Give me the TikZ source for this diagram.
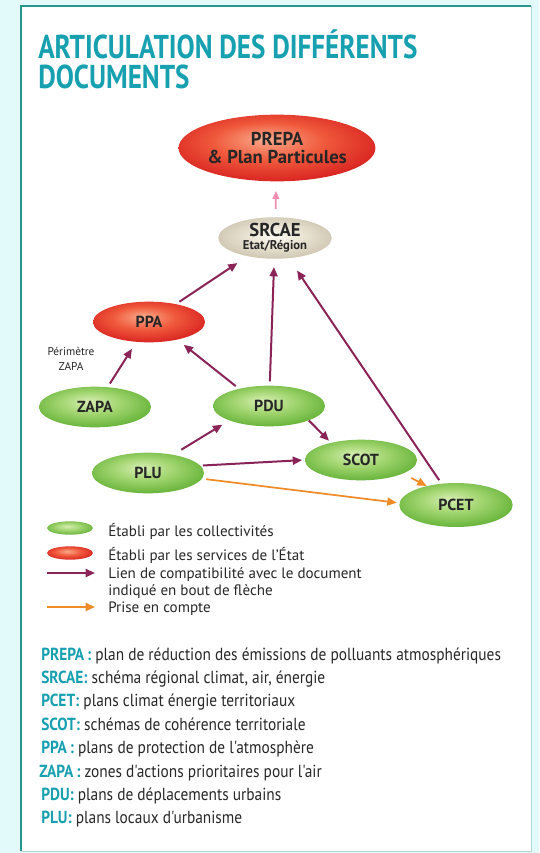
\documentclass[tikz,border=0pt]{standalone}
\usepackage{fontspec}
\setmainfont{PT Sans}
\newfontfamily\titlefont{PT Sans}[FakeStretch=0.82]
\newfontfamily\glossfont{PT Sans}[FakeStretch=0.88]
\usepackage{tikz}
\usetikzlibrary{arrows.meta,positioning,shapes.geometric}

\definecolor{titleteal}{RGB}{22,160,176}
\definecolor{framecol}{RGB}{40,150,140}
\definecolor{bgcyan}{RGB}{226,250,250}
\definecolor{linkcol}{RGB}{138,36,88}
\definecolor{takecol}{RGB}{240,140,40}
\definecolor{pinkcol}{RGB}{240,140,175}
\definecolor{txtcol}{RGB}{40,40,40}
\definecolor{gHi}{RGB}{214,238,178}
\definecolor{gMid}{RGB}{160,212,110}
\definecolor{gLo}{RGB}{96,176,52}
\definecolor{rHi}{RGB}{250,170,140}
\definecolor{rMid}{RGB}{240,90,60}
\definecolor{rLo}{RGB}{214,30,30}
\definecolor{bHi}{RGB}{252,250,244}
\definecolor{bMid}{RGB}{234,228,212}
\definecolor{bLo}{RGB}{204,196,174}

\pgfdeclareradialshading{greenglow}{\pgfpoint{-3bp}{7bp}}%
  {color(0bp)=(gHi); color(14bp)=(gMid); color(30bp)=(gLo); color(50bp)=(gLo)}
\pgfdeclareradialshading{redglow}{\pgfpoint{-3bp}{7bp}}%
  {color(0bp)=(rHi); color(14bp)=(rMid); color(30bp)=(rLo); color(50bp)=(rLo)}
\pgfdeclareradialshading{beigeglow}{\pgfpoint{0bp}{3bp}}%
  {color(0bp)=(bHi); color(12bp)=(bMid); color(28bp)=(bLo); color(50bp)=(bLo)}

\begin{document}
\begin{tikzpicture}[
    x=0.75pt, y=-0.75pt,
    docnode/.style={ellipse, minimum width=84pt, minimum height=30.5pt,
                    inner sep=0pt, align=center, text=black!85,
                    font=\fontsize{12}{13}\selectfont\bfseries},
    local/.style={docnode, shade, shading=greenglow},
    state/.style={docnode, shade, shading=redglow},
    region/.style={docnode, shade, shading=beigeglow},
    link/.style={-{Triangle[length=7pt,width=6pt]}, line width=1.5pt, linkcol,
                 shorten <=3pt, shorten >=6pt},
    takeinto/.style={-{Triangle[length=7pt,width=6pt]}, line width=1.3pt, takecol},
    titletxt/.style={anchor=base west, inner sep=0pt, titleteal, align=left,
                     font=\titlefont\fontsize{24.8}{22.5}\selectfont\bfseries},
    legtxt/.style={anchor=base west, inner sep=0pt, text=txtcol,
                   font=\fontsize{11.3}{12}\selectfont},
    glosstxt/.style={anchor=base west, inner sep=0pt, text=txtcol,
                     font=\glossfont\fontsize{13.1}{15}\selectfont},
  ]
    \useasboundingbox (0,0) rectangle (539,853);

    % frame
    \fill[bgcyan] (0,0) rectangle (539,853);
    \fill[white] (21,6) rectangle (531,851);
    \draw[framecol!35, line width=0.6pt] (531,6) -- (531,851) -- (21,851);
    \draw[framecol, line width=1.2pt] (531,6) -- (21,6) -- (21,851);

    % title
    \node[titletxt] (title) at (38,88) {ARTICULATION DES DIFFÉRENTS\\DOCUMENTS};

    % documents
    \node[state, minimum width=138pt, minimum height=50pt,
          font=\fontsize{14}{15}\selectfont\bfseries] (prepa) at (277,148)
      {PREPA\\[-2pt]\& Plan Particules};
    \node[region, minimum width=85pt, minimum height=29pt,
          font=\fontsize{14}{15}\selectfont\bfseries] (srcae) at (275,238)
      {SRCAE\\[-5pt]{\fontsize{9.5}{10}\selectfont Etat/Région}};
    \node[state] (ppa) at (149,322) {PPA};
    \node[local] (zapa) at (95,407) {ZAPA};
    \node[local] (pdu) at (269,406) {PDU};
    \node[local] (scot) at (361,460) {SCOT};
    \node[local] (plu) at (148,473) {PLU};
    \node[local, minimum width=85pt, minimum height=33pt] (pcet) at (456,505) {PCET};
    \node[font=\fontsize{8.5}{11}\selectfont, text=txtcol, align=center]
      (perim) at (71,359) {Périmètre\\ZAPA};

    % compatibility links
    \draw[-{Triangle[length=6pt,width=5pt]}, line width=1.3pt, pinkcol,
          shorten <=6pt, shorten >=7pt] (srcae) -- (prepa);
    \draw[link, shorten >=9pt] (ppa) -- (srcae);
    \draw[link] (pdu) -- (srcae);
    \draw[link, shorten >=11pt] (pcet) -- (srcae);
    \draw[link] (zapa) -- (ppa);
    \draw[link] (pdu.150) -- (ppa.-32);
    \draw[link, shorten <=7pt] (plu.36) -- (pdu.200);
    \draw[link, shorten <=0pt, shorten >=2pt] (pdu.-20) -- (scot.150);
    \draw[link, shorten <=2pt, shorten >=2pt] (plu.8) -- (scot.west);

    % taken into account
    \draw[takeinto, shorten <=3pt, shorten >=2pt] (plu.-6) -- (pcet.178);
    \draw[takeinto, shorten <=7pt] (scot.-18) -- (pcet.147);

    % legend
    \node[local, minimum width=34.5pt, minimum height=10pt] (leglocal) at (70,528) {};
    \node[state, minimum width=34.5pt, minimum height=10pt] (legstate) at (70,553) {};
    \coordinate (linkA) at (47,573);
    \coordinate (linkB) at (95,573);
    \draw[link, shorten <=0pt, shorten >=0pt] (linkA) -- (linkB);
    \coordinate (takeA) at (47,607);
    \coordinate (takeB) at (95,607);
    \draw[takeinto] (takeA) -- (takeB);
    \node[legtxt] (leg1) at (108,536) {Établi par les collectivités};
    \node[legtxt] (leg2) at (108,560) {Établi par les services de l'État};
    \node[legtxt] (leg3) at (108,578) {Lien de compatibilité avec le document};
    \node[legtxt] (leg4) at (108,595) {indiqué en bout de flèche};
    \node[legtxt] (leg5) at (108,612) {Prise en compte};

    % glossary
    \node[glosstxt] (gprepa) at (41,660)
      {\textcolor{titleteal}{\bfseries PREPA\,:} plan de réduction des émissions de polluants atmosphériques};
    \node[glosstxt] (gsrcae) at (41,683.4)
      {\textcolor{titleteal}{\bfseries SRCAE:} schéma régional climat, air, énergie};
    \node[glosstxt] (gpcet) at (41,706.8)
      {\textcolor{titleteal}{\bfseries PCET:} plans climat énergie territoriaux};
    \node[glosstxt] (gscot) at (41,730.2)
      {\textcolor{titleteal}{\bfseries SCOT:} schémas de cohérence territoriale};
    \node[glosstxt] (gppa) at (41,753.6)
      {\textcolor{titleteal}{\bfseries PPA\,:} plans de protection de l'atmosphère};
    \node[glosstxt] (gzapa) at (39,777)
      {\textcolor{titleteal}{\bfseries ZAPA\,:} zones d'actions prioritaires pour l'air};
    \node[glosstxt] (gpdu) at (41,800.4)
      {\textcolor{titleteal}{\bfseries PDU:} plans de déplacements urbains};
    \node[glosstxt] (gplu) at (41,823.8)
      {\textcolor{titleteal}{\bfseries PLU:} plans locaux d'urbanisme};
  \end{tikzpicture}
\end{document}
